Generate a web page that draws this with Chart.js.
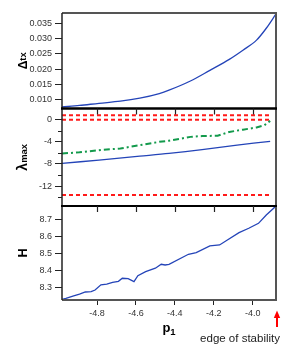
<!DOCTYPE html>
<html><head><meta charset="utf-8">
<script src="https://cdn.jsdelivr.net/npm/chart.js@4.4.1/dist/chart.umd.min.js"></script>
<style>
html,body{margin:0;padding:0;background:#fff;}
#wrap{position:relative;width:301px;height:351px;overflow:hidden;}
canvas{position:absolute;left:0;top:0;}
</style></head><body>
<div id="wrap">
<canvas id="c1" width="301" height="351"></canvas>
<canvas id="c2" width="301" height="351"></canvas>
<canvas id="c3" width="301" height="351"></canvas>
</div>
<script>
// ---------- data ----------
const xRange = [-4.98, -3.88];
const xTickVals = [-4.8, -4.6, -4.4, -4.2, -4.0];

// panel 1: Δtx
const p1Delta = [-4.98,-4.89,-4.79,-4.68,-4.58,-4.48,-4.43,-4.32,-4.22,-4.12,-4.05,-3.98,-3.93,-3.88];
const deltaTx = [0.0076,0.0081,0.0088,0.0095,0.0105,0.0120,0.0131,0.0161,0.0196,0.0232,0.0262,0.0295,0.0334,0.0381];
const deltaRange = [0.0071, 0.0384];
const deltaTicks = [0.010, 0.015, 0.020, 0.025, 0.030, 0.035];

// panel 2: λmax
const p1Blue = [-4.98,-4.79,-4.58,-4.43,-4.26,-4.08,-3.91];
const lambdaBlue = [-7.9,-7.3,-6.6,-6.1,-5.4,-4.6,-3.9];
const p1Green = [-4.98,-4.89,-4.79,-4.68,-4.58,-4.48,-4.43,-4.32,-4.26,-4.18,-4.12,-4.05,-3.98,-3.94,-3.91];
const lambdaGreen = [-6.1,-5.9,-5.5,-5.2,-4.6,-4.0,-3.8,-3.1,-2.95,-2.9,-2.2,-1.8,-1.4,-1.0,-0.2];
const p1Red = [-4.98, -3.91];
const redUpper = [0.8, 0.8];
const redZero = [0, 0];
const redLower = [-13.6, -13.6];
const lambdaRange = [-15.6, 2.03];
const lambdaLabeled = [0, -4, -8, -12];
const lambdaMinor = [-2, -6, -10, -14];

// panel 3: H
const p1H = [-4.98,-4.96,-4.92,-4.89,-4.86,-4.83,-4.81,-4.78,-4.75,-4.72,-4.69,-4.67,-4.64,-4.61,-4.59,-4.55,-4.50,-4.47,-4.45,-4.43,-4.33,-4.29,-4.22,-4.17,-4.13,-4.07,-4.02,-3.97,-3.93,-3.88];
const hVals = [8.229,8.235,8.249,8.259,8.272,8.274,8.284,8.314,8.319,8.329,8.335,8.353,8.351,8.333,8.368,8.392,8.412,8.435,8.431,8.435,8.494,8.504,8.543,8.549,8.578,8.621,8.647,8.676,8.725,8.778];
const hRange = [8.225, 8.778];
const hTicks = [8.3, 8.4, 8.5, 8.6, 8.7];

// ---------- styling ----------
const FONT = '"Liberation Sans", Arial, Helvetica, sans-serif';
Chart.defaults.font.family = FONT;
const BLUE = '#2444b8';
const RED = '#ff1a1a';
const GREEN = '#139a4c';
const W = 301, H = 351;
const PLOT_LEFT = 62, PLOT_RIGHT = 276;
const PANEL_TOPS = [13, 108.5, 206, 300];

function pts(xs, ys) { return xs.map((x, i) => ({ x, y: ys[i] })); }

function line(ctx, x1, y1, x2, y2) { ctx.beginPath(); ctx.moveTo(x1, y1); ctx.lineTo(x2, y2); ctx.stroke(); }

function xScale(display) {
  return {
    type: 'linear', min: xRange[0], max: xRange[1], display,
    afterBuildTicks: s => { s.ticks = xTickVals.map(v => ({ value: v })); },
    afterFit: s => { s.height = display ? H - PANEL_TOPS[3] : 0; },
    grid: { drawOnChartArea: false, drawTicks: true, tickLength: 5, tickColor: '#222', tickWidth: 1 },
    border: { display: false },
    ticks: { padding: 3, color: '#333', font: { size: 9 }, maxRotation: 0, autoSkip: false,
             callback: v => Number(v).toFixed(1) }
  };
}

function yScale(range, tickVals, fmt) {
  return {
    type: 'linear', min: range[0], max: range[1],
    afterBuildTicks: s => { s.ticks = tickVals.map(v => ({ value: v })); },
    afterFit: s => { s.width = PLOT_LEFT; },
    grid: { drawOnChartArea: false, drawTicks: true, tickLength: 7, tickWidth: 1, tickColor: '#222' },
    border: { display: false },
    ticks: { padding: 3, color: '#333', font: { size: 9 }, autoSkip: false, callback: fmt }
  };
}

function drawRotTitle(ctx, cx, cy, main, sub, mainSize, subSize, subDrop) {
  ctx.save();
  ctx.translate(cx, cy);
  ctx.rotate(-Math.PI / 2);
  ctx.fillStyle = '#000';
  ctx.textAlign = 'left';
  ctx.textBaseline = 'alphabetic';
  ctx.font = 'bold ' + mainSize + 'px ' + FONT;
  const w1 = ctx.measureText(main).width;
  ctx.font = 'bold ' + subSize + 'px ' + FONT;
  const w2 = sub ? ctx.measureText(sub).width : 0;
  const start = -(w1 + w2) / 2;
  ctx.font = 'bold ' + mainSize + 'px ' + FONT;
  ctx.fillText(main, start, 0);
  if (sub) { ctx.font = 'bold ' + subSize + 'px ' + FONT; ctx.fillText(sub, start + w1, subDrop); }
  ctx.restore();
}

function framePlugin(o) {
  return {
    id: 'frame',
    afterDraw(chart) {
      const ctx = chart.ctx, a = chart.chartArea;
      ctx.save();
      ctx.lineCap = 'butt';
      ctx.strokeStyle = '#555'; ctx.lineWidth = 2;
      line(ctx, a.right, a.top - 1, a.right, a.bottom + 1);
      if (o.topGrey) line(ctx, a.left, a.top, a.right + 1, a.top);
      if (o.bottomGrey) line(ctx, a.left, a.bottom, a.right + 1, a.bottom);
      ctx.strokeStyle = '#222'; ctx.lineWidth = 1.5;
      line(ctx, a.left, a.top, a.left, a.bottom);
      if (o.topBlack) {
        ctx.strokeStyle = '#000'; ctx.lineWidth = o.topBlack;
        line(ctx, a.left - 1, a.top, a.right + 1, a.top);
      }
      if (o.innerTicks) {
        const xs = chart.scales.x;
        ctx.strokeStyle = '#222'; ctx.lineWidth = 1.2;
        for (const v of xTickVals) {
          const px = Math.round(xs.getPixelForValue(v)) + 0.5;
          line(ctx, px, a.top, px, a.top + 6);
        }
      }
      if (o.minor) {
        const ys = chart.scales.y;
        ctx.strokeStyle = '#222'; ctx.lineWidth = 1;
        for (const v of o.minor) {
          const py = Math.round(ys.getPixelForValue(v)) + 0.5;
          line(ctx, a.left - 4, py, a.left, py);
        }
      }
      if (o.title) {
        drawRotTitle(ctx, 26.5, (a.top + a.bottom) / 2, o.title[0], o.title[1], o.title[2], o.title[3], o.title[4]);
      }
      if (o.bottomExtras) {
        ctx.fillStyle = '#000'; ctx.textBaseline = 'alphabetic'; ctx.textAlign = 'left';
        ctx.font = 'bold 13px ' + FONT;
        const wp = ctx.measureText('p').width;
        ctx.font = 'bold 9.5px ' + FONT;
        const w1 = ctx.measureText('1').width;
        const cx = (a.left + a.right) / 2;
        const sx = cx - (wp + w1) / 2;
        ctx.font = 'bold 13px ' + FONT;
        ctx.fillText('p', sx, 332);
        ctx.font = 'bold 9.5px ' + FONT;
        ctx.fillText('1', sx + wp, 335);
        ctx.fillStyle = '#222'; ctx.textAlign = 'right';
        ctx.font = '11.5px ' + FONT;
        ctx.fillText('edge of stability', a.right + 4, 342);
        const ax = a.right + 1;
        ctx.strokeStyle = '#ff0000'; ctx.fillStyle = '#ff0000'; ctx.lineWidth = 2;
        line(ctx, ax, 327, ax, 316);
        ctx.beginPath(); ctx.moveTo(ax, 310.5); ctx.lineTo(ax - 3.2, 318); ctx.lineTo(ax + 3.2, 318); ctx.closePath(); ctx.fill();
      }
      ctx.restore();
    }
  };
}

function baseOpts(padTop, padBottom, scales) {
  return {
    responsive: false, maintainAspectRatio: false, animation: false, devicePixelRatio: 1,
    layout: { padding: { left: 0, right: W - PLOT_RIGHT, top: padTop, bottom: padBottom } },
    plugins: { legend: { display: false }, tooltip: { enabled: false } },
    elements: { point: { radius: 0 } },
    scales
  };
}

// ---------- panel 1 ----------
new Chart(document.getElementById('c1'), {
  type: 'line',
  data: { datasets: [
    { data: pts(p1Delta, deltaTx), borderColor: BLUE, borderWidth: 1.3, cubicInterpolationMode: 'monotone', fill: false }
  ] },
  options: baseOpts(PANEL_TOPS[0], H - PANEL_TOPS[1], {
    x: xScale(false),
    y: yScale(deltaRange, deltaTicks, v => Number(v).toFixed(3))
  }),
  plugins: [framePlugin({ topGrey: true, title: ['Δ', 'tx', 12, 9.5, -1] })]
});

// ---------- panel 2 ----------
new Chart(document.getElementById('c2'), {
  type: 'line',
  data: { datasets: [
    { data: pts(p1Red, redUpper), borderColor: RED, borderWidth: 2, borderDash: [4, 3], fill: false },
    { data: pts(p1Red, redZero), borderColor: RED, borderWidth: 2, borderDash: [4, 3], fill: false },
    { data: pts(p1Red, redLower), borderColor: RED, borderWidth: 2, borderDash: [4, 3], fill: false },
    { data: pts(p1Blue, lambdaBlue), borderColor: BLUE, borderWidth: 1.3, tension: 0.3, fill: false },
    { data: pts(p1Green, lambdaGreen), borderColor: GREEN, borderWidth: 2, borderDash: [6, 3, 2, 3], tension: 0, fill: false }
  ] },
  options: baseOpts(PANEL_TOPS[1], H - PANEL_TOPS[2], {
    x: xScale(false),
    y: yScale(lambdaRange, lambdaLabeled, v => String(Math.round(v)))
  }),
  plugins: [framePlugin({ topBlack: 2.5, innerTicks: true, minor: lambdaMinor, title: ['λ', 'max', 14, 9.5, 0] })]
});

// ---------- panel 3 ----------
new Chart(document.getElementById('c3'), {
  type: 'line',
  data: { datasets: [
    { data: pts(p1H, hVals), borderColor: BLUE, borderWidth: 1.3, tension: 0, fill: false }
  ] },
  options: baseOpts(PANEL_TOPS[2], 0, {
    x: xScale(true),
    y: yScale(hRange, hTicks, v => Number(v).toFixed(1))
  }),
  plugins: [framePlugin({ topBlack: 2, innerTicks: true, bottomGrey: true, title: ['H', '', 12.5, 9, 0], bottomExtras: true })]
});
</script>
</body></html>
